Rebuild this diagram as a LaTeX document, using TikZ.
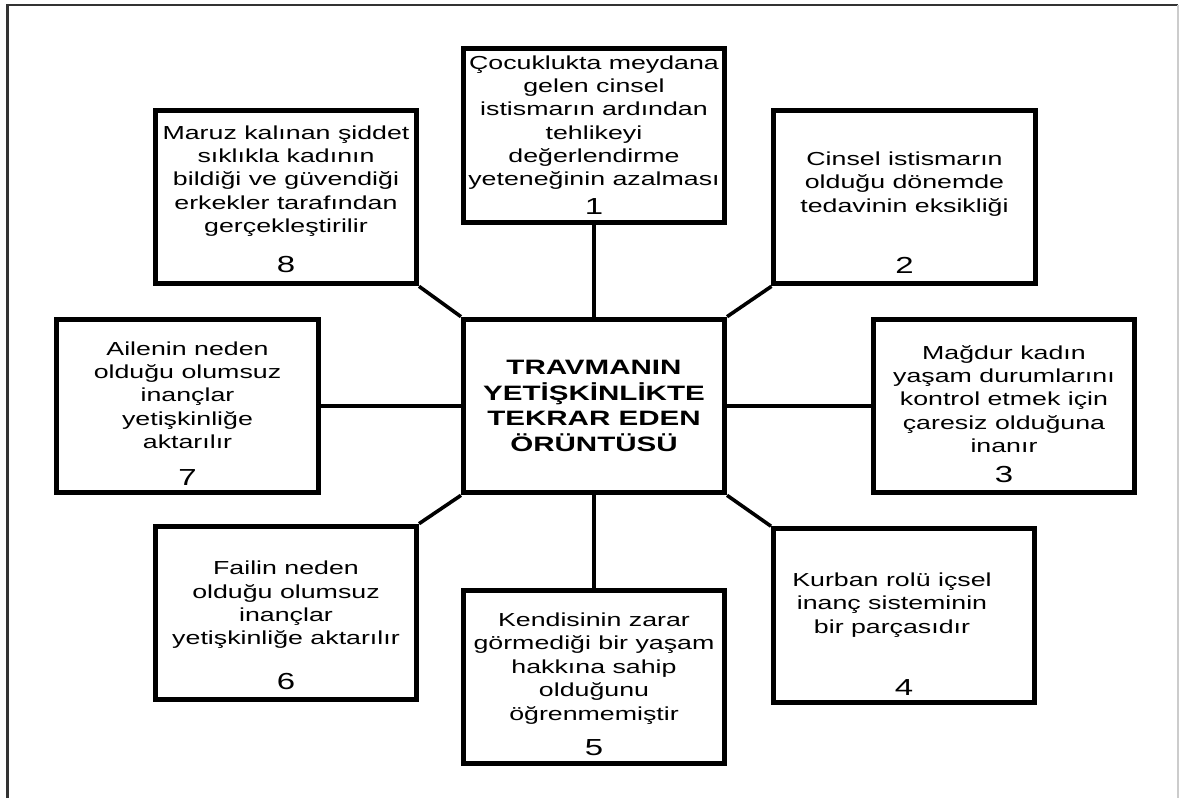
\documentclass[tikz,border=0pt]{standalone}
\usepackage{fontspec}
\setmainfont{Liberation Sans}
\newfontfamily\boxfont[FakeStretch=1.42]{Liberation Sans}
\usetikzlibrary{calc,positioning}

\begin{document}
\begin{tikzpicture}[x=0.025cm,y=-0.025cm]

\tikzset{textbox/.style={draw=black,line width=0.125cm,minimum width=6.525cm,minimum height=4.34cm,inner sep=0pt,shape=rectangle},
boxtext/.style={font=\boxfont\fontsize{13.4}{16.6}\selectfont,align=center,inner sep=0pt},
boxnum/.style={font=\boxfont\fontsize{16.5}{18}\selectfont,inner sep=0pt},
midtext/.style={font=\boxfont\bfseries\fontsize{14.8}{18.3}\selectfont,align=center},
link/.style={line width=0.09cm}}

\useasboundingbox (0,0) rectangle (1179,798);

% Frame
\draw[black!80,line width=0.06cm] (7.5,798) -- (7.5,5) -- (1178,5);
\draw[black!20,line width=0.03cm] (1178,5) -- (1178,798);

% Central box
\node[textbox,midtext] (c) at (594,406) {TRAVMANIN\\YETİŞKİNLİKTE\\TEKRAR EDEN\\ÖRÜNTÜSÜ};

% Outer boxes
\node[textbox] (b1) at (594,135.5) {};
\node[textbox] (b2) at (904.5,197) {};
\node[textbox] (b3) at (1004,406) {};
\node[textbox] (b4) at (904,615.5) {};
\node[textbox] (b5) at (594,677) {};
\node[textbox] (b6) at (286,613) {};
\node[textbox] (b7) at (187.5,406) {};
\node[textbox] (b8) at (286,197) {};

% Box texts
\node[boxtext] (t1) at ($(b1)+(0,-13)$) {Çocuklukta meydana\\gelen cinsel\\istismarın ardından\\tehlikeyi\\değerlendirme\\yeteneğinin azalması};
\node[boxtext] (t2) at ($(b2)+(0,-13)$) {Cinsel istismarın\\olduğu dönemde\\tedavinin eksikliği};
\node[boxtext] (t3) at ($(b3)+(0,-7)$) {Mağdur kadın\\yaşam durumlarını\\kontrol etmek için\\çaresiz olduğuna\\inanır};
\node[boxtext] (t4) at ($(b4)+(-12,-10.5)$) {Kurban rolü içsel\\inanç sisteminin\\bir parçasıdır};
\node[boxtext] (t5) at ($(b5)+(0,-8.5)$) {Kendisinin zarar\\görmediği bir yaşam\\hakkına sahip\\olduğunu\\öğrenmemiştir};
\node[boxtext] (t6) at ($(b6)+(0,-8)$) {Failin neden\\olduğu olumsuz\\inançlar\\yetişkinliğe aktarılır};
\node[boxtext] (t7) at ($(b7)+(0,-11)$) {Ailenin neden\\olduğu olumsuz\\inançlar\\yetişkinliğe\\aktarılır};
\node[boxtext] (t8) at ($(b8)+(0,-16)$) {Maruz kalınan şiddet\\sıklıkla kadının\\bildiği ve güvendiği\\erkekler tarafından\\gerçekleştirilir};

% Numbers
\foreach \i/\d in {1/71.5,2/68,3/69,4/72.5,5/71,6/69,7/72,8/68} \node[boxnum] (n\i) at ($(b\i)+(0,\d)$) {\i};

% Links to the centre
\foreach \a/\b in {b1.south/c.north,b5.north/c.south,b7.east/c.west,b3.west/c.east,b8.south east/c.north west,b2.south west/c.north east,b6.north east/c.south west,b4.north west/c.south east} \draw[link] (\a) -- (\b);

\end{tikzpicture}
\end{document}
